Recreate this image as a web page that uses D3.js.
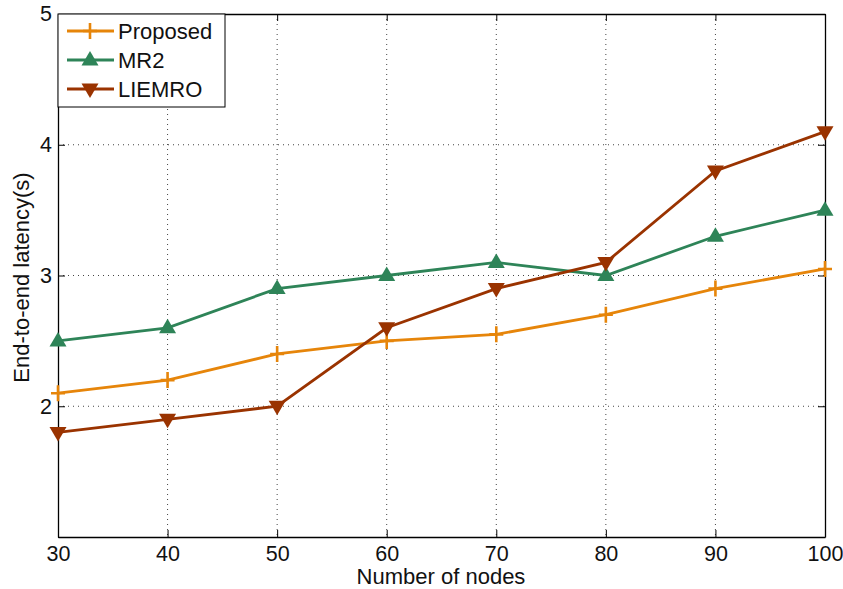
<!DOCTYPE html>
<html>
<head>
<meta charset="utf-8">
<script src="https://cdn.jsdelivr.net/npm/d3@7"></script>
<style>
  body { margin: 0; background: #fff; }
  text { font-family: "Liberation Sans", Arial, sans-serif; }
</style>
</head>
<body>
<svg width="843" height="589"></svg>
<script>
// data
const nodes = [30, 40, 50, 60, 70, 80, 90, 100];
const proposed = [2.1, 2.2, 2.4, 2.5, 2.55, 2.7, 2.9, 3.05];
const mr2 = [2.5, 2.6, 2.9, 3.0, 3.1, 3.0, 3.3, 3.5];
const liemro = [1.8, 1.9, 2.0, 2.6, 2.9, 3.1, 3.8, 4.1];
const seriesNames = ["Proposed", "MR2", "LIEMRO"];
const yTicks = [1, 2, 3, 4, 5];

const plotL = 58, plotR = 825, plotT = 14, plotB = 537;

const svg = d3.select("svg");
const x = d3.scaleLinear().domain([30, 100]).range([plotL, plotR]);
const y = d3.scaleLinear().domain([1, 5]).range([plotB, plotT]);

// grid
const grid = svg.append("g");
grid.selectAll(".gx").data(nodes.slice(1, -1)).enter().append("line")
    .attr("x1", d => x(d)).attr("x2", d => x(d))
    .attr("y1", plotT).attr("y2", plotB)
    .attr("stroke", "#444").attr("stroke-width", 1)
    .attr("stroke-dasharray", "1,4");
grid.selectAll(".gy").data(yTicks.slice(1, -1)).enter().append("line")
    .attr("x1", plotL).attr("x2", plotR)
    .attr("y1", d => y(d)).attr("y2", d => y(d))
    .attr("stroke", "#444").attr("stroke-width", 1)
    .attr("stroke-dasharray", "1,4");

// axes (ticks inward, MATLAB style)
const fontSize = 21.5;
const xAxis = svg.append("g").attr("transform", `translate(0,${plotB})`)
    .call(d3.axisBottom(x).tickValues(nodes).tickSizeInner(-7).tickSizeOuter(0).tickPadding(9));
const xTop = svg.append("g").attr("transform", `translate(0,${plotT})`)
    .call(d3.axisTop(x).tickValues(nodes).tickSizeInner(-7).tickSizeOuter(0).tickFormat(""));
const yAxis = svg.append("g").attr("transform", `translate(${plotL},0)`)
    .call(d3.axisLeft(y).tickValues(yTicks).tickSizeInner(-7).tickSizeOuter(0).tickPadding(6)
        .tickFormat(d => d === 1 ? "" : d));
const yRight = svg.append("g").attr("transform", `translate(${plotR},0)`)
    .call(d3.axisRight(y).tickValues(yTicks).tickSizeInner(-7).tickSizeOuter(0).tickFormat(""));

[xAxis, xTop, yAxis, yRight].forEach(g => {
    g.attr("font-size", fontSize).attr("font-family", "'Liberation Sans', Arial, sans-serif");
    g.select(".domain").attr("stroke", "#000").attr("stroke-width", 1.3);
    g.selectAll(".tick line").attr("stroke", "#000").attr("stroke-width", 1);
    g.selectAll(".tick text").attr("fill", "#111");
});

// axis titles
svg.append("text").attr("x", 441).attr("y", 584)
    .attr("text-anchor", "middle").attr("font-size", 22).attr("fill", "#111").text("Number of nodes");
svg.append("text").attr("transform", `translate(29,${(plotT + plotB) / 2 + 2}) rotate(-90)`)
    .attr("text-anchor", "middle").attr("font-size", 22).attr("fill", "#111").text("End-to-end latency(s)");

// series
const colors = ["#E6850A", "#2E8458", "#9A3300"];
const markers = ["plus", "up", "down"];
const allSeries = [proposed, mr2, liemro];

function drawMarker(g, type, cx, cy, color) {
    if (type === "plus") {
        g.append("path").attr("d", `M${cx - 7},${cy}H${cx + 7}M${cx},${cy - 8}V${cy + 8}`)
            .attr("stroke", color).attr("stroke-width", 2.6).attr("fill", "none");
    } else if (type === "up") {
        g.append("path").attr("d", `M${cx},${cy - 9}L${cx + 8.5},${cy + 5.5}L${cx - 8.5},${cy + 5.5}Z`)
            .attr("fill", color);
    } else {
        g.append("path").attr("d", `M${cx},${cy + 9}L${cx + 8.5},${cy - 5.5}L${cx - 8.5},${cy - 5.5}Z`)
            .attr("fill", color);
    }
}

const line = d3.line().x((d, i) => x(nodes[i])).y(d => y(d));
allSeries.forEach((vals, s) => {
    const g = svg.append("g");
    g.append("path").datum(vals).attr("d", line)
        .attr("fill", "none").attr("stroke", colors[s]).attr("stroke-width", 2.8);
    vals.forEach((v, i) => drawMarker(g, markers[s], x(nodes[i]), y(v), colors[s]));
});

// legend
const lg = svg.append("g");
lg.append("rect").attr("x", plotL).attr("y", plotT).attr("width", 167).attr("height", 93)
    .attr("fill", "#fff").attr("stroke", "#000").attr("stroke-width", 1);
seriesNames.forEach((name, i) => {
    const ly = plotT + 17 + i * 29;
    lg.append("line").attr("x1", plotL + 9).attr("x2", plotL + 56).attr("y1", ly).attr("y2", ly)
        .attr("stroke", colors[i]).attr("stroke-width", 2.8);
    drawMarker(lg, markers[i], plotL + 32, ly, colors[i]);
    lg.append("text").attr("x", plotL + 60).attr("y", ly + 8)
        .attr("font-size", 22).attr("fill", "#111").text(name);
});
</script>
</body>
</html>
